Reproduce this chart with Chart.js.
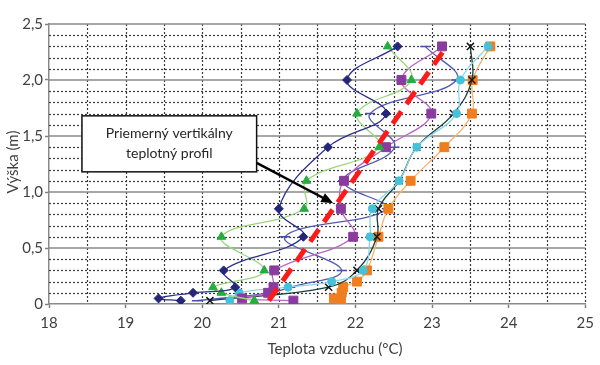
<!DOCTYPE html>
<html><head><meta charset="utf-8">
<script src="https://cdn.jsdelivr.net/npm/chart.js@4"></script>
<style>html,body{margin:0;padding:0;background:#fff;}#wrap{width:600px;height:365px;position:relative;}</style>
</head><body><div id="wrap"><canvas id="c" width="600" height="365" style="width:600px;height:365px"></canvas></div>
<script>
// Heights (m) of the measurement points
const heights = [0.03, 0.05, 0.1, 0.15, 0.2, 0.3, 0.6, 0.85, 1.1, 1.4, 1.7, 2.0, 2.3];
// Air temperature (°C) per series at each height (null = no point)
const seriesNavy   = [19.72, 19.43, 19.88, 20.43, null, 20.28, 21.32, 21.00, null, 21.64, 22.40, 21.89, 22.55];
const seriesGreen  = [20.68, null, 20.25, 20.14, null, 20.81, 20.25, 21.33, 21.36, 22.31, 22.02, 22.73, 22.42];
const seriesPurple = [21.19, 20.52, 20.86, 20.93, null, 20.94, 21.97, 21.81, 21.85, 22.40, 22.99, 22.60, 23.13];
const seriesCyan   = [20.36, null, 20.48, 21.12, 21.69, 22.10, 22.19, 22.22, 22.57, 22.80, 23.32, 23.37, 23.73];
const seriesBlack  = [20.10, null, null, 21.65, null, 22.02, 22.28, 22.30, 22.57, 22.80, 23.28, 23.52, 23.50];
const seriesOrange = [21.81, 21.72, 21.82, 21.84, 22.02, 22.15, 22.30, 22.43, 22.72, 23.16, 23.52, 23.53, 23.76];
const seriesSlate  = [19.93, null, 20.89, 21.15, null, 21.82, 21.08, 22.41, 21.84, 22.51, 22.19, 23.32, 22.91];
// Average vertical profile (red dashed line)
const avgHeights = [0.03, 0.85, 2.3];
const avgTemps   = [20.87, 21.71, 23.19];
// Axis ticks
const xTicks = [18, 19, 20, 21, 22, 23, 24, 25];
const yTicks = [0, 0.5, 1.0, 1.5, 2.0, 2.5];
const xTitle = 'Teplota vzduchu (°C)';
const yTitle = 'Výška (m)';
const annotationLines = ['Priemerný vertikálny', 'teplotný profil'];

function pts(temps, hs) {
  const out = [];
  temps.forEach((t, i) => { if (t !== null) out.push({x: t, y: hs[i]}); });
  return out;
}

function series(data, line, mark, style, radius, order) {
  return {
    data: pts(data, heights), showLine: true, tension: 0.4,
    borderColor: line, borderWidth: 1.3, backgroundColor: mark,
    pointStyle: style, pointRadius: radius, pointBorderColor: mark,
    pointBackgroundColor: mark, pointBorderWidth: style === 'crossRot' || style === 'line' ? 1.5 : 1,
    order: order
  };
}

const gridPlugin = {
  id: 'grid',
  beforeDatasetsDraw(chart) {
    const {ctx, chartArea: a, scales: {x, y}} = chart;
    ctx.save();
    ctx.strokeStyle = '#3a3a3a'; ctx.lineWidth = 1.2; ctx.setLineDash([2, 2]);
    for (let k = 1; k < 25; k++) {
      if (k % 5 === 0) continue;
      const py = Math.round(y.getPixelForValue(k / 10)) + 0.5;
      ctx.beginPath(); ctx.moveTo(a.left, py); ctx.lineTo(a.right, py); ctx.stroke();
    }
    for (let k = 1; k <= 14; k++) {
      const px = Math.round(x.getPixelForValue(18 + k * 0.5)) + 0.5;
      ctx.beginPath(); ctx.moveTo(px, a.top); ctx.lineTo(px, a.bottom); ctx.stroke();
    }
    ctx.setLineDash([]); ctx.strokeStyle = '#8a8a8a'; ctx.lineWidth = 1.5;
    for (let k = 1; k <= 5; k++) {
      const py = y.getPixelForValue(k * 0.5);
      ctx.beginPath(); ctx.moveTo(a.left, py); ctx.lineTo(a.right, py); ctx.stroke();
    }
    ctx.restore();
  },
  afterDatasetsDraw(chart) {
    const {ctx, scales: {x, y}} = chart;
    ctx.save();
    const x1 = x.getPixelForValue(20.71), y1 = y.getPixelForValue(1.26);
    const x2 = x.getPixelForValue(21.71), y2 = y.getPixelForValue(0.90);
    const ang = Math.atan2(y2 - y1, x2 - x1);
    ctx.strokeStyle = '#000'; ctx.fillStyle = '#000'; ctx.lineWidth = 2.5;
    ctx.beginPath(); ctx.moveTo(x1, y1);
    ctx.lineTo(x2 - 9 * Math.cos(ang), y2 - 9 * Math.sin(ang)); ctx.stroke();
    ctx.beginPath(); ctx.moveTo(x2, y2);
    ctx.lineTo(x2 - 12 * Math.cos(ang) + 5 * Math.sin(ang), y2 - 12 * Math.sin(ang) - 5 * Math.cos(ang));
    ctx.lineTo(x2 - 12 * Math.cos(ang) - 5 * Math.sin(ang), y2 - 12 * Math.sin(ang) + 5 * Math.cos(ang));
    ctx.closePath(); ctx.fill();
    const bl = x.getPixelForValue(18.43), br = x.getPixelForValue(20.71);
    const bt = y.getPixelForValue(1.68), bb = y.getPixelForValue(1.18);
    ctx.fillStyle = '#fff'; ctx.fillRect(bl, bt, br - bl, bb - bt);
    ctx.strokeStyle = '#111'; ctx.lineWidth = 1.5; ctx.strokeRect(bl, bt, br - bl, bb - bt);
    ctx.fillStyle = '#262626'; ctx.font = '14px Lato'; ctx.textAlign = 'center'; ctx.textBaseline = 'middle';
    const cx = (bl + br) / 2, cy = (bt + bb) / 2;
    ctx.fillText(annotationLines[0], cx, cy - 10);
    ctx.fillText(annotationLines[1], cx, cy + 10);
    ctx.restore();
  },
  afterDraw(chart) {
    const {ctx} = chart;
    ctx.save();
    ctx.fillStyle = '#404040'; ctx.font = '15px Lato'; ctx.textAlign = 'center'; ctx.textBaseline = 'middle';
    ctx.fillText(xTitle, 335, 349);
    ctx.translate(13, 162); ctx.rotate(-Math.PI / 2);
    ctx.fillText(yTitle, 0, 0);
    ctx.restore();
  }
};

new Chart(document.getElementById('c'), {
  type: 'scatter',
  data: {
    datasets: [
      {data: pts(avgTemps, avgHeights), showLine: true, tension: 0, borderColor: '#ff1a1a', borderWidth: 5,
       borderDash: [15, 9], pointRadius: 0, order: 0},
      series(seriesNavy, '#2e3088', '#24267a', 'rectRot', 4.5, 1),
      series(seriesGreen, '#9ad67c', '#25ad3f', 'triangle', 5, 2),
      series(seriesPurple, '#b865c6', '#8a3c9e', 'rect', 6.3, 3),
      series(seriesCyan, '#8fd6e6', '#44c2da', 'circle', 4, 4),
      series(seriesBlack, '#183e3e', '#151515', 'crossRot', 5, 5),
      series(seriesOrange, '#f5b36e', '#f07d1e', 'rect', 6.3, 6),
      series(seriesSlate, '#5659b2', '#4b4fa8', 'line', 5, 7)
    ]
  },
  options: {
    responsive: false, maintainAspectRatio: false, animation: false, devicePixelRatio: 1,
    layout: {padding: {left: 0, top: 24, right: 14, bottom: 0}},
    plugins: {legend: {display: false}, tooltip: {enabled: false}},
    scales: {
      x: {
        type: 'linear', min: 18, max: 25,
        afterBuildTicks(s) { s.ticks = xTicks.map(v => ({value: v})); },
        afterFit(s) { s.height = 61; },
        grid: {drawOnChartArea: false, drawTicks: true, tickLength: 4, tickColor: '#808080', tickWidth: 1.5},
        border: {display: true, color: '#8a8a8a', width: 1.5},
        ticks: {color: '#404040', font: {family: 'Lato', size: 15}, padding: 6, maxRotation: 0, autoSkip: false,
                callback: v => String(v)},
        title: {display: false}
      },
      y: {
        type: 'linear', min: 0, max: 2.5,
        afterBuildTicks(s) { s.ticks = yTicks.map(v => ({value: v})); },
        afterFit(s) { s.width = 49; },
        grid: {drawOnChartArea: false, drawTicks: true, tickLength: 4, tickColor: '#808080', tickWidth: 1.5},
        border: {display: true, color: '#8a8a8a', width: 1.5},
        ticks: {color: '#404040', font: {family: 'Lato', size: 15}, padding: 2, autoSkip: false,
                callback: v => v === 0 ? '0' : v.toFixed(1).replace('.', ',')},
        title: {display: false}
      }
    }
  },
  plugins: [gridPlugin]
});
</script></body></html>
